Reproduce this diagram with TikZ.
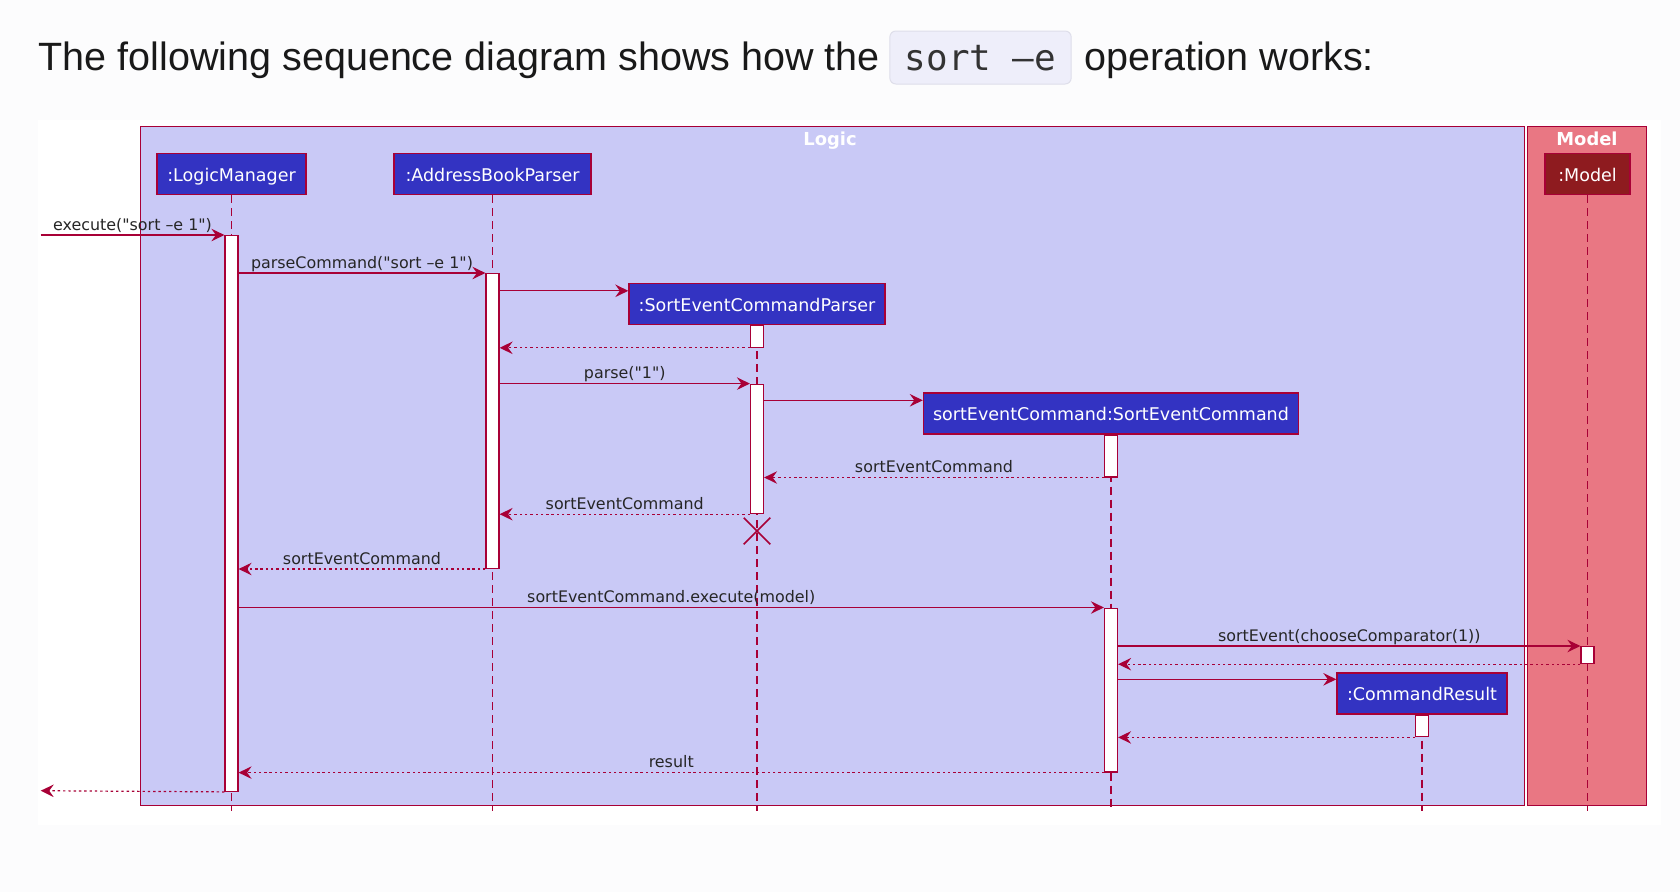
\documentclass[tikz,border=0pt]{standalone}
\usepackage{fontspec}
\setmainfont{DejaVu Sans}
\newfontfamily\umlfont{DejaVu Sans}
\newfontfamily\titlefont{Liberation Sans}
\newfontfamily\codefont{DejaVu Sans Mono}
\usepackage{tikz}
\usetikzlibrary{arrows.meta,positioning,shapes.misc}
\definecolor{umlred}{RGB}{168,0,54}
\definecolor{logicfill}{RGB}{201,201,246}
\definecolor{modelfill}{RGB}{233,119,131}
\definecolor{partblue}{RGB}{51,51,194}
\definecolor{partdark}{RGB}{142,27,31}
\definecolor{codefill}{RGB}{238,238,250}
\definecolor{codeline}{RGB}{222,222,234}
\definecolor{pagebg}{RGB}{252,252,253}

\begin{document}
\begin{tikzpicture}[x=1pt,y=-1pt,
  part/.style={draw=umlred,line width=1.4pt,fill=partblue,text=white,minimum height=41pt,inner sep=0pt,text height=16pt,text depth=2pt,font=\umlfont\fontsize{17.5}{20}\selectfont},
  act/.style={draw=umlred,line width=1.2pt,fill=white,minimum width=13pt,inner sep=0pt,anchor=north},
  msg/.style={umlred,line width=1.2pt,-{Stealth[length=13pt,width=12.5pt,inset=4.5pt]}},
  ret/.style={msg,dash pattern=on 2.4pt off 2.9pt},
  life/.style={umlred,line width=1.2pt,dash pattern=on 8pt off 5pt},
  lbl/.style={anchor=base,yshift=5pt,inner sep=0pt,text=black!85,font=\umlfont\fontsize{15.9}{18}\selectfont},
  grp/.style={anchor=base,text=white,inner sep=0pt,font=\umlfont\bfseries\fontsize{17.9}{20}\selectfont},
  ttl/.style={anchor=base west,inner sep=0pt,text=black!90,font=\titlefont\fontsize{39.5}{46}\selectfont}]
\useasboundingbox (0,0) rectangle (1680,892);
\fill[pagebg] (0,0) rectangle (1680,892);
\fill[white] (37.5,120) rectangle (1661,825);

\node[ttl] (title) at (38.6,70) {The following sequence diagram shows how the};
\node[anchor=base,draw=codeline,fill=codefill,rounded corners=6pt,line width=1pt,inner xsep=15pt,inner ysep=0pt,text height=39pt,text depth=14pt,text=black!80,font=\codefont\fontsize{35.9}{40}\selectfont] (code) at (980.5,70) {sort –e};
\node[ttl] (titleEnd) at (1084,70) {operation works:};

\draw[umlred,line width=1.2pt,fill=logicfill] (140.4,126.4) rectangle (1524.6,805.7);
\draw[umlred,line width=1.2pt,fill=modelfill] (1527.8,126.4) rectangle (1646.7,805.7);
\node[grp] (logicLbl) at (830,145) {Logic};
\node[grp] (modelLbl) at (1587,145) {Model};

\node[part,minimum width=149pt] (lm) at (231.5,174) {:LogicManager};
\node[part,minimum width=197pt] (abp) at (492.5,174) {:AddressBookParser};
\node[part,minimum width=256pt] (secp) at (757,304) {:SortEventCommandParser};
\node[part,minimum width=375pt] (sec) at (1111,413.5) {sortEventCommand:SortEventCommand};
\node[part,minimum width=170pt] (cr) at (1422,693.5) {:CommandResult};
\node[part,minimum width=85pt,fill=partdark] (mdl) at (1587.5,174) {:Model};

\coordinate (bot) at (0,811);
\draw[life] (lm.south) -- (lm.south |- bot);
\draw[life] (abp.south) -- (abp.south |- bot);
\draw[life] (secp.south) -- (secp.south |- bot);
\draw[life] (sec.south) -- (sec.south |- bot);
\draw[life] (cr.south) -- (cr.south |- bot);
\draw[life] (mdl.south) -- (mdl.south |- bot);

\node[act,minimum height=555.7pt] (lmA) at (231.5,235) {};
\node[act,minimum height=294.8pt] (abpA) at (492.5,273) {};
\node[act,minimum height=21.4pt] (secpA1) at (secp.south) {};
\node[act,minimum height=129.4pt] (secpA2) at (757,383.6) {};
\node[act,minimum height=41.6pt] (secA1) at (sec.south) {};
\node[act,minimum height=163.9pt] (secA2) at (1111,607.5) {};
\node[act,minimum height=17pt] (mdlA) at (1587.5,646) {};
\node[act,minimum height=21.5pt] (crA) at (cr.south) {};

\coordinate (callIn) at (40.7,235);
\coordinate (retOut) at (40.7,790.7);
\coordinate (secpIn) at ([yshift=-8pt]secp.north west);
\coordinate (secIn) at ([yshift=-8pt]sec.north west);
\coordinate (crIn) at ([yshift=-7pt]cr.north west);

\draw[msg] (callIn) -- node[lbl] {execute("sort –e 1")} (lmA.north west);
\draw[msg] (lmA.east |- abpA.north) -- node[lbl] {parseCommand("sort –e 1")} (abpA.north west);
\draw[msg] (abpA.east |- secpIn) -- (secpIn);
\draw[ret] (secpA1.south west) -- (abpA.east |- secpA1.south);
\draw[msg] (abpA.east |- secpA2.north) -- node[lbl] {parse("1")} (secpA2.north west);
\draw[msg] (secpA2.east |- secIn) -- (secIn);
\draw[ret] (secA1.south west) -- node[lbl] {sortEventCommand} (secpA2.east |- secA1.south);
\draw[ret] (secpA2.south west) -- node[lbl] {sortEventCommand} (abpA.east |- secpA2.south);
\node[draw=umlred,cross out,line width=1.5pt,minimum size=25pt,inner sep=0pt] (secpX) at (757,531) {};
\draw[ret] (abpA.south west) -- node[lbl] {sortEventCommand} (lmA.east |- abpA.south);
\draw[msg] (lmA.east |- secA2.north) -- node[lbl] {sortEventCommand.execute(model)} (secA2.north west);
\draw[msg] (secA2.east |- mdlA.north) -- node[lbl] {sortEvent(chooseComparator(1))} (mdlA.north west);
\draw[ret] (mdlA.south west) -- (secA2.east |- mdlA.south);
\draw[msg] (secA2.east |- crIn) -- (crIn);
\draw[ret] (crA.south west) -- (secA2.east |- crA.south);
\draw[ret] (secA2.south west) -- node[lbl] {result} (lmA.east |- secA2.south);
\draw[ret] (lmA.south west) -- (retOut);
\end{tikzpicture}
\end{document}
